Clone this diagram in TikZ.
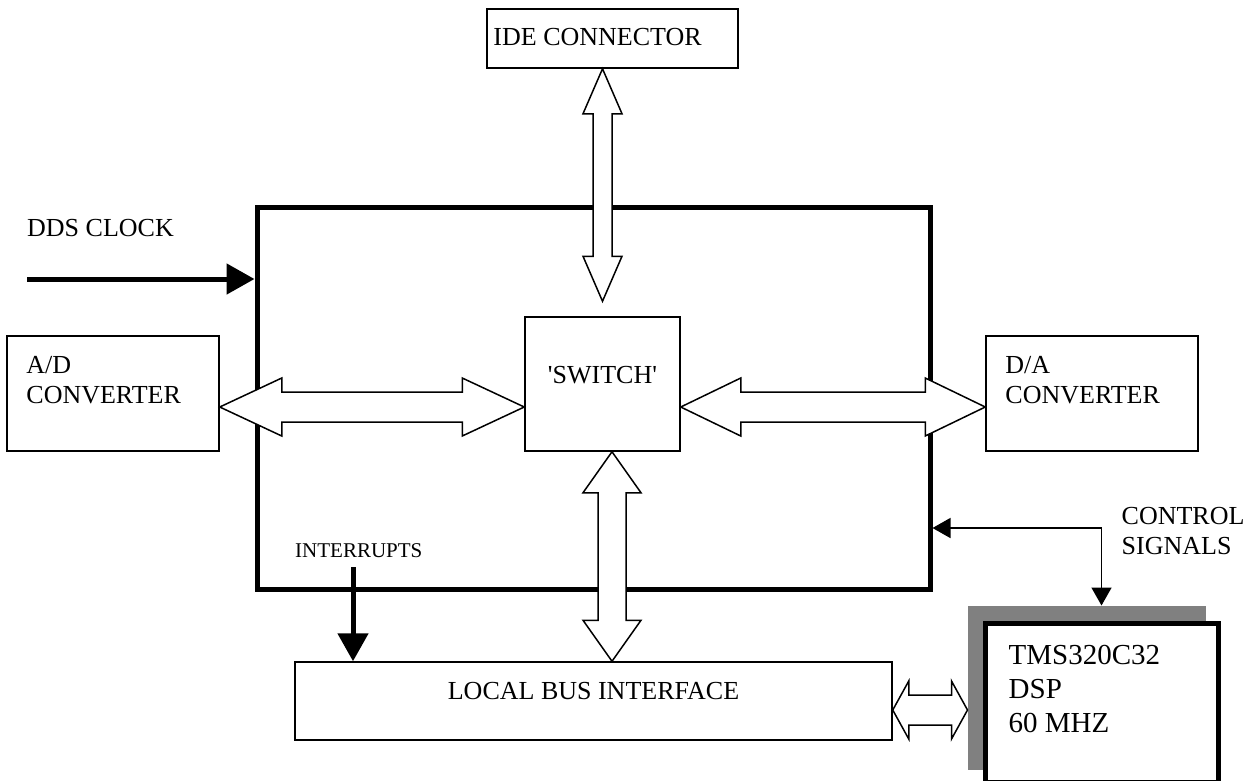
\documentclass[tikz,border=0pt]{standalone}
\usepackage{fontspec}
\setmainfont{Liberation Serif}
\usepackage{tikz}
\usetikzlibrary{calc,arrows.meta,backgrounds}

% hollow bus arrows: from, to, head length, shaft half width, head half width
\newcommand{\hbus}[5]{%
  \draw[bus] (#1) -- ++(#3,-#5) -- ++(0,#5-#4) -- ($(#2)+(-#3,-#4)$) -- ++(0,#4-#5)
    -- (#2) -- ++(-#3,#5) -- ++(0,#4-#5) -- ($(#1)+(#3,#4)$) -- ++(0,#5-#4) -- cycle;}
\newcommand{\vbus}[5]{%
  \draw[bus] (#1) -- ++(#5,#3) -- ++(#4-#5,0) -- ($(#2)+(#4,-#3)$) -- ++(#5-#4,0)
    -- (#2) -- ++(-#5,-#3) -- ++(#5-#4,0) -- ($(#1)+(-#4,#3)$) -- ++(#4-#5,0) -- cycle;}

\begin{document}
\begin{tikzpicture}[x=1pt,y=-1pt,
    font=\fontsize{26}{30}\selectfont,
    blk/.style={draw,line width=1.5pt,fill=white,inner sep=0pt},
    bigbox/.style={draw,line width=5pt,inner sep=0pt},
    txt/.style={inner sep=0pt,align=left},
    bus/.style={draw,fill=white,line width=1.5pt},
    fat/.style={line width=5pt,-{Triangle[length=28pt,width=30pt]}},
    ctrlline/.style={line width=1.5pt,{Triangle[length=18pt,width=20pt]}-{Triangle[length=18pt,width=20pt]}}]

    \useasboundingbox (0,0) rectangle (1255,780);

    % Boxes
    \node[bigbox, minimum width=673pt, minimum height=382pt] (main) at (593.5,398) {};
    \node[blk, minimum width=251pt, minimum height=59pt] (ide) at (612.5,38.5) {};
    \node[blk, minimum width=212pt, minimum height=115pt] (ad) at (113,393.5) {};
    \node[blk, minimum width=212pt, minimum height=115pt] (da) at (1092,393.5) {};
    \node[blk, minimum width=155pt, minimum height=134pt] (sw) at (602.5,384) {};
    \node[blk, minimum width=597pt, minimum height=78pt] (lbi) at (593.5,701) {};
    \node[bigbox, fill=white, minimum width=233pt, minimum height=159pt] (dsp) at (1101.5,702.5) {};

    % Shadow of the DSP
    \coordinate (shnw) at ($(dsp.north west)+(-15,-15)$);
    \coordinate (shse) at ($(dsp.south east)+(-15,-15)$);
    \begin{scope}[on background layer]
      \fill[gray] (shnw) rectangle (shse);
    \end{scope}

    % Buses
    \coordinate (busrow) at (0,407);
    \coordinate (dsprow) at (0,710);
    \coordinate (col) at (612,0);
    \coordinate (swtop) at ($(sw.north)+(0,-15)$);
    \vbus{sw.north |- ide.south}{swtop}{45}{9.5}{19.5}
    \hbus{ad.east |- busrow}{sw.west |- busrow}{62}{15}{29}
    \hbus{sw.east |- busrow}{da.west |- busrow}{60}{15}{29}
    \vbus{col |- sw.south}{col |- lbi.north}{41}{14}{29}
    \hbus{lbi.east |- dsprow}{shnw |- dsprow}{16}{15}{29}

    % Signals
    \coordinate (clk) at (27,279);
    \coordinate (irq) at (353,567);
    \coordinate (ctrl) at (dsp.north |- 0,528);
    \draw[fat] (clk) -- (clk -| main.west);
    \draw[fat] (irq) -- (irq |- lbi.north);
    \draw[ctrlline] (main.east |- ctrl) -- (ctrl) -- (ctrl |- shnw);

    % Labels
    \node[txt, anchor=base west] (idelbl) at ($(ide.west)+(7,6.5)$) {IDE CONNECTOR};
    \node[txt, anchor=base west] (clklbl) at ($(clk)+(0,-43)$) {DDS CLOCK};
    \node[txt, anchor=base west, font=\fontsize{21}{24}\selectfont] (irqlbl) at ($(irq)+(-58,-10)$) {INTERRUPTS};
    \node[txt, anchor=north west] (ctrllbl) at ($(ctrl)+(20,-21)$) {CONTROL\\SIGNALS};
    \node[txt, anchor=north west] (adlbl) at ($(ad.north west)+(20,21)$) {A/D\\CONVERTER};
    \node[txt, anchor=north west] (dalbl) at ($(da.north west)+(20,21)$) {D/A\\CONVERTER};
    \node[txt, anchor=base] (swlbl) at ($(sw.center)+(0,-1)$) {\textquotesingle SWITCH\textquotesingle};
    \node[txt, anchor=base] (lbilbl) at ($(lbi.center)+(0,-2)$) {LOCAL BUS INTERFACE};
    \node[txt, anchor=north west, font=\fontsize{29}{34}\selectfont] (dsplbl) at ($(dsp.north west)+(26,24)$) {TMS320C32\\DSP\\60 MHZ};

\end{tikzpicture}
\end{document}
